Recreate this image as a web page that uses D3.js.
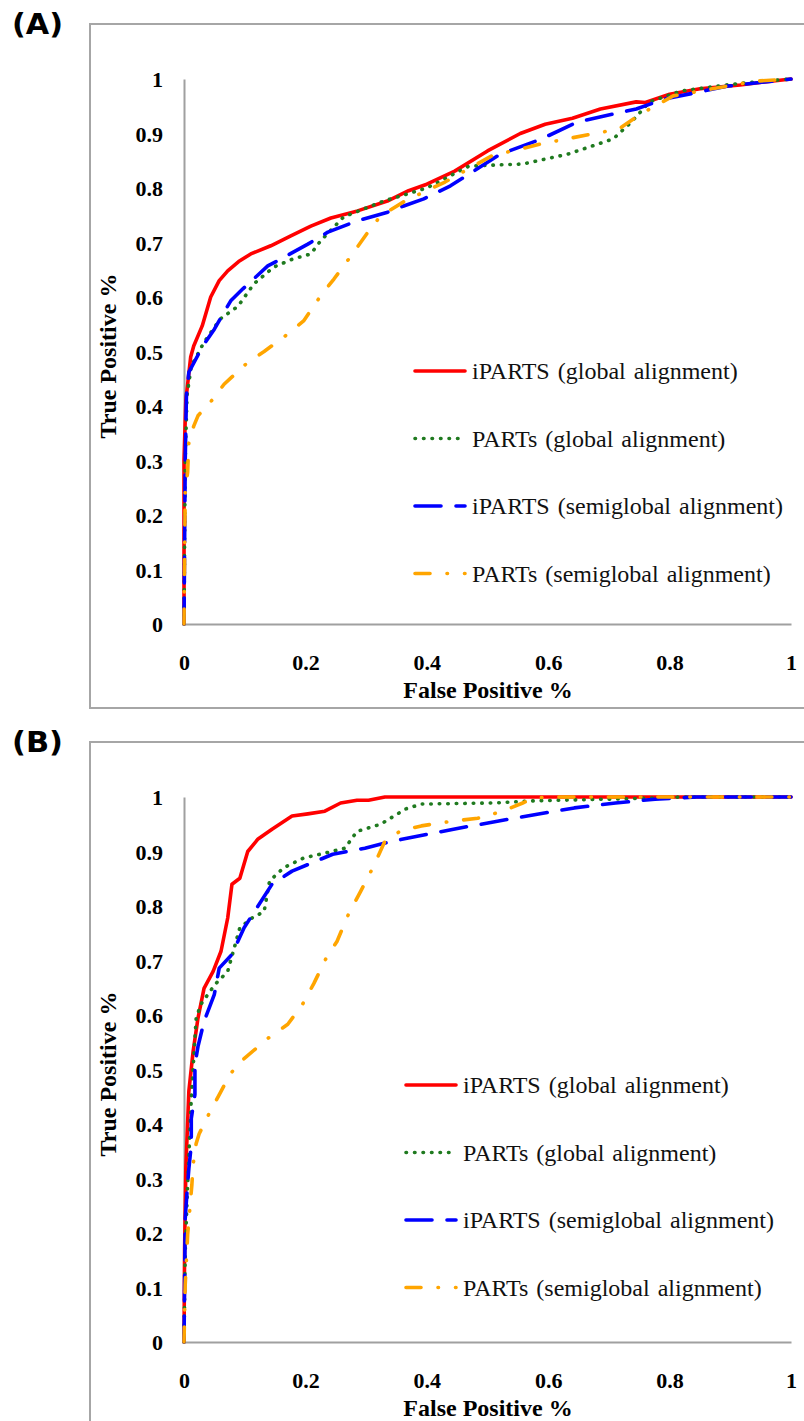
<!DOCTYPE html>
<html>
<head>
<meta charset="utf-8">
<script src="https://cdn.jsdelivr.net/npm/d3@7"></script>
<style>
  body { margin: 0; background: #fff; }
  svg { display: block; }
  .serif { font-family: "Liberation Serif", "Times New Roman", Times, serif; }
</style>
</head>
<body>
<svg id="chart" width="804" height="1421"></svg>
<script>
// tick values
const xTicks = [0, 0.2, 0.4, 0.6, 0.8, 1];
const yTicks = [0, 0.1, 0.2, 0.3, 0.4, 0.5, 0.6, 0.7, 0.8, 0.9, 1];

const seriesNames = [
  "iPARTS (global alignment)",
  "PARTs (global alignment)",
  "iPARTS (semiglobal alignment)",
  "PARTs (semiglobal alignment)"
];

// panel A curves, [false positive, true positive]
const aIpartsGlobal = [[0,0],[0,0.30],[0.003,0.41],[0.011,0.49],[0.016,0.51],[0.030,0.547],[0.044,0.60],[0.058,0.63],[0.072,0.648],[0.09,0.665],[0.11,0.679],[0.143,0.694],[0.176,0.712],[0.209,0.73],[0.242,0.745],[0.286,0.758],[0.335,0.776],[0.37,0.795],[0.40,0.807],[0.446,0.831],[0.5,0.868],[0.554,0.90],[0.595,0.917],[0.64,0.928],[0.686,0.945],[0.745,0.958],[0.76,0.957],[0.80,0.972],[0.85,0.982],[0.916,0.989],[0.96,0.995],[1,1]];
const aPartsGlobal = [[0,0],[0.002,0.30],[0.005,0.42],[0.012,0.473],[0.033,0.517],[0.06,0.56],[0.089,0.583],[0.115,0.624],[0.148,0.655],[0.18,0.67],[0.209,0.679],[0.225,0.703],[0.263,0.747],[0.329,0.776],[0.40,0.80],[0.469,0.84],[0.51,0.842],[0.558,0.844],[0.632,0.862],[0.707,0.89],[0.737,0.921],[0.767,0.958],[0.819,0.978],[0.90,0.99],[0.954,0.996],[1,1]];
const aIpartsSemi = [[0,0],[0.002,0.30],[0.004,0.42],[0.008,0.462],[0.031,0.51],[0.05,0.541],[0.066,0.572],[0.077,0.593],[0.097,0.615],[0.138,0.657],[0.165,0.673],[0.204,0.697],[0.237,0.719],[0.286,0.74],[0.334,0.755],[0.362,0.767],[0.395,0.78],[0.439,0.804],[0.521,0.862],[0.589,0.89],[0.648,0.921],[0.745,0.945],[0.791,0.963],[0.896,0.987],[1,1]];
const aPartsSemi = [[0,0],[0.002,0.242],[0.006,0.279],[0.008,0.334],[0.016,0.363],[0.023,0.382],[0.048,0.413],[0.066,0.44],[0.105,0.48],[0.132,0.50],[0.171,0.532],[0.197,0.556],[0.225,0.602],[0.247,0.633],[0.275,0.675],[0.303,0.719],[0.324,0.749],[0.364,0.776],[0.43,0.811],[0.507,0.859],[0.589,0.881],[0.671,0.899],[0.716,0.908],[0.753,0.936],[0.806,0.969],[0.94,0.996],[1,1]];

// panel B curves
const bIpartsGlobal = [[0,0],[0.001,0.17],[0.003,0.318],[0.008,0.46],[0.015,0.533],[0.023,0.594],[0.033,0.649],[0.048,0.68],[0.061,0.717],[0.072,0.778],[0.079,0.84],[0.092,0.851],[0.105,0.90],[0.122,0.923],[0.145,0.941],[0.178,0.965],[0.204,0.969],[0.232,0.974],[0.258,0.989],[0.285,0.994],[0.304,0.994],[0.331,1],[1,1]];
const bPartsGlobal = [[0,0],[0.002,0.165],[0.006,0.289],[0.012,0.447],[0.017,0.539],[0.02,0.594],[0.028,0.62],[0.051,0.656],[0.072,0.68],[0.092,0.76],[0.112,0.778],[0.132,0.79],[0.141,0.846],[0.164,0.87],[0.197,0.888],[0.232,0.897],[0.265,0.906],[0.285,0.937],[0.324,0.95],[0.34,0.961],[0.365,0.978],[0.391,0.987],[0.51,0.989],[0.577,0.993],[0.776,0.998],[0.82,1],[1,1]];
const bIpartsSemi = [[0,0],[0.001,0.11],[0.002,0.226],[0.005,0.276],[0.008,0.318],[0.012,0.362],[0.012,0.41],[0.018,0.454],[0.018,0.509],[0.023,0.542],[0.033,0.588],[0.05,0.638],[0.058,0.686],[0.079,0.711],[0.099,0.76],[0.145,0.84],[0.178,0.864],[0.245,0.895],[0.298,0.906],[0.344,0.919],[0.444,0.941],[0.544,0.961],[0.643,0.98],[0.711,0.989],[0.776,0.996],[0.844,1],[1,1]];
const bPartsSemi = [[0,0],[0.002,0.105],[0.006,0.197],[0.013,0.289],[0.015,0.325],[0.02,0.364],[0.025,0.382],[0.039,0.414],[0.061,0.46],[0.077,0.493],[0.099,0.52],[0.138,0.557],[0.171,0.583],[0.196,0.621],[0.214,0.658],[0.234,0.704],[0.252,0.735],[0.271,0.785],[0.291,0.827],[0.311,0.87],[0.331,0.919],[0.357,0.938],[0.391,0.947],[0.444,0.956],[0.484,0.961],[0.525,0.974],[0.558,0.989],[0.577,0.998],[0.6,1],[1,1]];

// line styles
const colors = ["#ff0000", "#1f7a1f", "#0000ff", "#ffa500"];
const dashes = [null, "0.5,8", "26,15", "15,17,0.5,17"];

const svg = d3.select("#chart");

function drawPanel(label, top, data, legend) {
  const yTop = top + 55, yBottom = top + 600;
  const x = d3.scaleLinear().domain([0, 1]).range([184, 791]);
  const y = d3.scaleLinear().domain([0, 1]).range([yBottom, yTop]);

  // outer frame
  svg.append("rect")
    .attr("x", 90).attr("y", top)
    .attr("width", 740).attr("height", 684)
    .attr("fill", "none").attr("stroke", "#a6a6a6").attr("stroke-width", 2);

  svg.append("text")
    .attr("x", 12).attr("y", top)
    .attr("dy", "0.36em")
    .style("font-family", "'DejaVu Sans', sans-serif")
    .style("font-weight", "bold").style("font-size", "29px")
    .attr("textLength", 51).attr("lengthAdjust", "spacingAndGlyphs")
    .text(label);

  // axes
  const yAxis = svg.append("g")
    .attr("transform", "translate(184,0)")
    .call(d3.axisLeft(y).tickValues(yTicks).tickSize(0).tickPadding(21).tickFormat(d3.format("~g")));
  const xAxis = svg.append("g")
    .attr("transform", `translate(0,${yBottom})`)
    .call(d3.axisBottom(x).tickValues(xTicks).tickSize(0).tickFormat(d3.format("~g")));
  [xAxis, yAxis].forEach(ax => {
    ax.attr("font-family", null).attr("font-size", null);
    ax.select(".domain").attr("stroke", "#a0a0a0").attr("stroke-width", 2);
    ax.selectAll("text")
      .attr("class", "serif")
      .style("font-weight", "bold")
      .style("font-size", "22px").attr("fill", "#000");
  });
  yAxis.selectAll("text").attr("dy", "0.35em");
  xAxis.selectAll("text").attr("y", 38).attr("dy", "0.35em");

  svg.append("text")
    .attr("class", "serif")
    .attr("x", 488).attr("y", yBottom + 66)
    .attr("dy", "0.35em").attr("text-anchor", "middle")
    .style("font-weight", "bold").style("font-size", "24px")
    .text("False Positive %");

  svg.append("text")
    .attr("class", "serif")
    .attr("transform", `translate(108,${top + 332}) rotate(-90)`)
    .attr("dy", "0.35em").attr("text-anchor", "middle")
    .style("font-weight", "bold").style("font-size", "24px")
    .text("True Positive %");

  // curves
  const line = d3.line().x(d => x(d[0])).y(d => y(d[1]));
  data.forEach((d, i) => {
    svg.append("path")
      .datum(d)
      .attr("d", line)
      .attr("fill", "none")
      .attr("stroke", colors[i])
      .attr("stroke-width", 3.6)
      .attr("stroke-linecap", "round")
      .attr("stroke-linejoin", "round")
      .attr("stroke-dasharray", dashes[i]);
  });

  // legend
  const lg = svg.append("g");
  seriesNames.forEach((name, i) => {
    const ly = legend.y + i * 67.5;
    lg.append("line")
      .attr("x1", legend.x).attr("x2", legend.x + 50)
      .attr("y1", ly).attr("y2", ly)
      .attr("stroke", colors[i]).attr("stroke-width", 3.6)
      .attr("stroke-linecap", "round")
      .attr("stroke-dasharray", dashes[i]);
    lg.append("text")
      .attr("class", "serif")
      .attr("x", legend.x + 57).attr("y", ly)
      .attr("dy", "0.35em")
      .style("font-size", "24px")
      .style("word-spacing", "2px")
      .attr("fill", "#111")
      .text(name);
  });
}

drawPanel("(A)", 24, [aIpartsGlobal, aPartsGlobal, aIpartsSemi, aPartsSemi], { x: 415, y: 371 });
drawPanel("(B)", 742, [bIpartsGlobal, bPartsGlobal, bIpartsSemi, bPartsSemi], { x: 406, y: 1085 });
</script>
</body>
</html>
